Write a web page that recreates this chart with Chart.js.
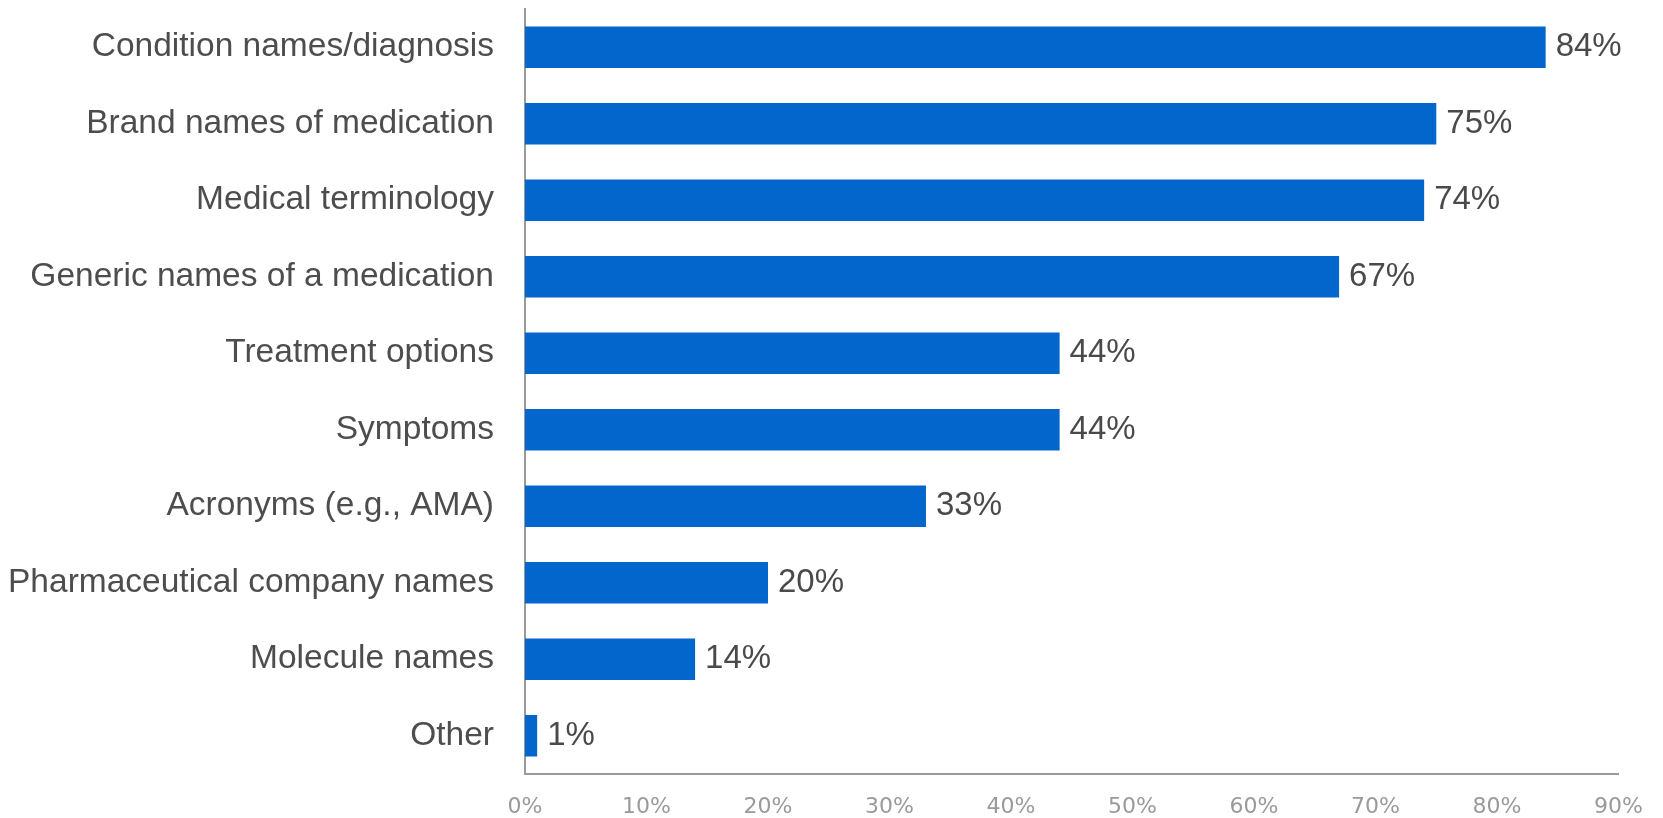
<!DOCTYPE html>
<html>
<head>
<meta charset="utf-8">
<script src="https://cdn.jsdelivr.net/npm/chart.js@4"></script>
<style>
html,body{margin:0;padding:0;background:#fff;}
#wrap{width:1663px;height:818px;position:relative;}
</style>
</head>
<body>
<div id="wrap"><canvas id="c"></canvas></div>
<script>
const categories = [
  "Condition names/diagnosis",
  "Brand names of medication",
  "Medical terminology",
  "Generic names of a medication",
  "Treatment options",
  "Symptoms",
  "Acronyms (e.g., AMA)",
  "Pharmaceutical company names",
  "Molecule names",
  "Other"
];
const values = [84, 75, 74, 67, 44, 44, 33, 20, 14, 1];
const xTickMax = 90;
const xTickStep = 10;

const valueLabels = {
  id: 'valueLabels',
  afterDatasetsDraw(chart) {
    const ctx = chart.ctx;
    const meta = chart.getDatasetMeta(0);
    ctx.save();
    ctx.font = '33px "Liberation Sans", Arial, sans-serif';
    ctx.fillStyle = '#4a4a4a';
    ctx.textAlign = 'left';
    ctx.textBaseline = 'middle';
    meta.data.forEach((bar, i) => {
      ctx.fillText(values[i] + '%', bar.x + 10, bar.y);
    });
    ctx.restore();
  }
};

new Chart(document.getElementById('c'), {
  type: 'bar',
  data: {
    labels: categories,
    datasets: [{
      data: values,
      backgroundColor: '#0366cc',
      borderWidth: 0,
      categoryPercentage: 1,
      barPercentage: 0.54
    }]
  },
  plugins: [valueLabels],
  options: {
    indexAxis: 'y',
    responsive: true,
    maintainAspectRatio: false,
    animation: false,
    layout: { padding: { top: 9, right: 36, bottom: 0, left: 0 } },
    plugins: { legend: { display: false }, tooltip: { enabled: false } },
    scales: {
      x: {
        min: 0,
        max: xTickMax,
        grid: { display: false, drawTicks: false },
        border: { display: true, color: '#9a9a9a', width: 2 },
        ticks: {
          stepSize: xTickStep,
          padding: 20,
          color: '#9a9a9a',
          font: { family: '"DejaVu Sans", sans-serif', size: 22 },
          callback: v => v + '%'
        },
        afterFit(scale) { scale.height = 44; }
      },
      y: {
        grid: { display: false, drawTicks: false },
        border: { display: true, color: '#9a9a9a', width: 2 },
        ticks: {
          padding: 31,
          color: '#4d4d4d',
          font: { family: '"Liberation Sans", Arial, sans-serif', size: 33.5 }
        },
        afterFit(scale) {
          scale.width = 525;
          scale.paddingTop = 0;
          scale.paddingBottom = 0;
        }
      }
    }
  }
});
</script>
</body>
</html>
